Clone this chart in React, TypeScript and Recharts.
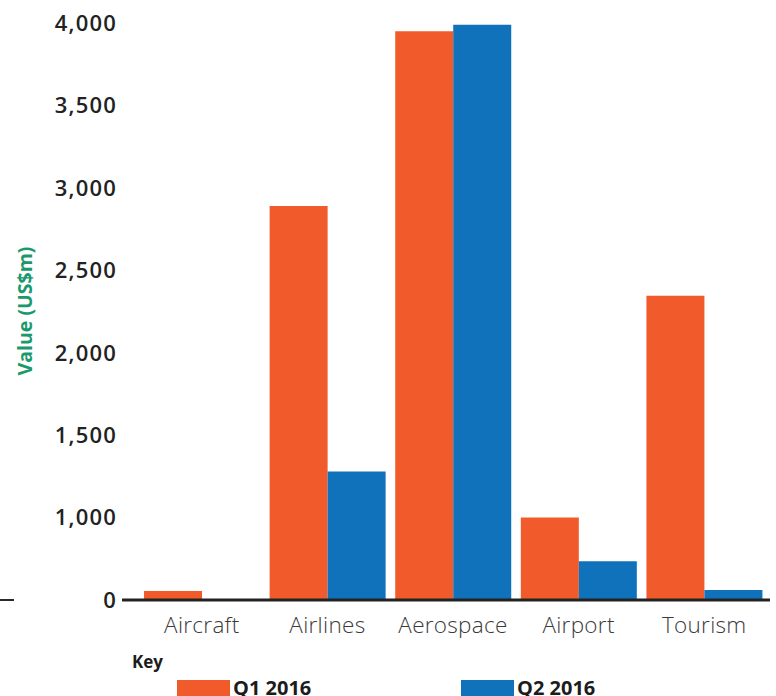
import React from 'react';
import { BarChart, Bar, XAxis, YAxis, Legend } from 'recharts';

const categories = ['Aircraft', 'Airlines', 'Aerospace', 'Airport', 'Tourism'];
const q1Values = [110, 2890, 3950, 1000, 2345];
const q2Values = [0, 1280, 3990, 470, 120];
const yTicks = [0, 1000, 1500, 2000, 2500, 3000, 3500, 4000];
const seriesNames = ['Q1 2016', 'Q2 2016'];
const seriesColors = ['#f15a2b', '#1072ba'];

const data = categories.map((name, i) => ({ name, q1: q1Values[i], q2: q2Values[i] }));

// the printed axis spaces its ticks evenly (0 -> 1,000 takes the same room as a 500 step)
function tickScale(): any {
  let dom = [yTicks[0], yTicks[yTicks.length - 1]];
  let rng = [0, 1];
  const steps = yTicks.length - 1;
  const toUnit = (v: number) => {
    if (v <= yTicks[0]) return (v - yTicks[0]) / (yTicks[1] - yTicks[0]);
    for (let i = 0; i < steps; i++) {
      if (v <= yTicks[i + 1]) return i + (v - yTicks[i]) / (yTicks[i + 1] - yTicks[i]);
    }
    return steps + (v - yTicks[steps]) / (yTicks[steps] - yTicks[steps - 1]);
  };
  const scale: any = (v: number) => rng[0] + (toUnit(v) / steps) * (rng[1] - rng[0]);
  scale.domain = (d?: number[]) => {
    if (d === undefined) return dom.slice();
    dom = d.slice();
    return scale;
  };
  scale.range = (r?: number[]) => {
    if (r === undefined) return rng.slice();
    rng = r.slice();
    return scale;
  };
  scale.invert = (px: number) => {
    const t = ((px - rng[0]) / (rng[1] - rng[0])) * steps;
    const i = Math.max(0, Math.min(steps - 1, Math.floor(t)));
    return yTicks[i] + (t - i) * (yTicks[i + 1] - yTicks[i]);
  };
  scale.ticks = () => yTicks.slice();
  scale.copy = () => tickScale().domain(dom).range(rng);
  return scale;
}

const fmt = (v: number) => v.toLocaleString('en-US');

const KeyLegend = () => (
  <div style={{ position: 'relative', width: 776, height: 48, fontFamily: 'Open Sans, sans-serif', color: '#1c1c1c' }}>
    <div style={{ position: 'absolute', left: 132, top: 2, fontSize: 17, fontWeight: 700 }}>Key</div>
    {seriesNames.map((s, i) => (
      <div key={s} style={{ position: 'absolute', left: 177 + i * 284, top: 32, display: 'flex', alignItems: 'flex-start' }}>
        <div style={{ width: 53, height: 16, background: seriesColors[i] }} />
        <div style={{ marginLeft: 3, marginTop: -4, fontSize: 20, fontWeight: 700, lineHeight: '24px' }}>{s}</div>
      </div>
    ))}
  </div>
);

export default function App() {
  return (
    <div style={{ position: 'absolute', left: 0, top: 0, width: 776, height: 696, overflow: 'hidden', background: '#fff' }}>
      <div style={{ position: 'absolute', left: 0, top: 599, width: 14, height: 2, background: '#2a2a2a' }} />
      <BarChart
        width={776}
        height={696}
        data={data}
        margin={{ top: 23, right: 6, bottom: 56, left: 0 }}
        barCategoryGap="4%"
        barGap={0}
      >
        <XAxis
          dataKey="name"
          height={40}
          padding={{ left: 17, right: 3 }}
          axisLine={{ stroke: '#222', strokeWidth: 3 }}
          tickLine={false}
          tickSize={0}
          tickMargin={17}
          tick={{ fill: '#3a3a3a', fontSize: 22.5, fontWeight: 300, fontFamily: 'Open Sans, sans-serif', letterSpacing: 0.3 }}
        />
        <YAxis
          width={122}
          scale={tickScale()}
          domain={[0, 4000]}
          ticks={yTicks}
          interval={0}
          axisLine={false}
          tickLine={false}
          tickSize={0}
          tickMargin={5}
          tickFormatter={fmt}
          tick={{ fill: '#222', fontSize: 22, fontWeight: 600, fontFamily: 'Open Sans, sans-serif', letterSpacing: 1.2 }}
          label={{
            content: () => (
              <text
                x={24}
                y={311}
                transform="rotate(-90 24 311)"
                textAnchor="middle"
                dominantBaseline="central"
                fill="#1a9a6c"
                fontSize={19.5}
                fontWeight={700}
                fontFamily="Open Sans, sans-serif"
              >
                Value (US$m)
              </text>
            ),
          }}
        />
        <Legend
          layout="horizontal"
          verticalAlign="middle"
          align="center"
          wrapperStyle={{ top: 648, left: 0, width: 776, height: 48 }}
          content={() => <KeyLegend />}
        />
        <Bar dataKey="q1" name={seriesNames[0]} fill={seriesColors[0]} isAnimationActive={false} />
        <Bar dataKey="q2" name={seriesNames[1]} fill={seriesColors[1]} isAnimationActive={false} />
      </BarChart>
    </div>
  );
}
